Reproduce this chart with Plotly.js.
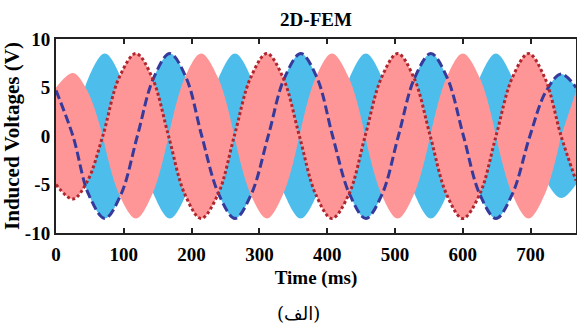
<!DOCTYPE html>
<html>
<head>
<meta charset="utf-8">
<script src="https://cdn.plot.ly/plotly-3.0.1.min.js"></script>
<style>html,body{margin:0;padding:0;background:#fff;}#chart{width:577px;height:325px;}</style>
</head>
<body>
<div id="chart"></div>
<script>
// Phase voltage (dotted red line), time in ms, volts
var timeRed = [0, 25, 46, 69, 93, 118, 142, 166, 190, 214, 239, 263, 287, 311, 335, 359, 383, 407, 432, 456, 480, 504, 528, 552, 576, 600, 625, 649, 673, 697, 721, 745, 767];
var voltRed = [-5.0, -6.5, -4.7, 0, 6.0, 8.5, 6.0, 0, -6.0, -8.5, -6.0, 0, 6.0, 8.5, 6.0, 0, -6.0, -8.5, -6.0, 0, 6.0, 8.5, 6.0, 0, -6.0, -8.5, -6.0, 0, 6.0, 8.5, 6.0, 0, -4.6];
// Phase voltage (dashed blue line)
var timeBlue = [0, 25, 48, 72, 96, 120, 144, 168, 192, 215, 240, 264, 288, 313, 337, 361, 385, 408, 433, 457, 481, 505, 529, 553, 577, 601, 625, 649, 673, 699, 722, 745, 767];
var voltBlue = [4.7, 0, -6.0, -8.5, -6.0, 0, 6.0, 8.5, 6.0, 0, -6.0, -8.5, -6.0, 0, 6.0, 8.5, 6.0, 0, -6.0, -8.5, -6.0, 0, 6.0, 8.5, 6.0, 0, -6.0, -8.5, -6.0, 0, 4.5, 6.4, 5.0];

var xTicks = [0, 100, 200, 300, 400, 500, 600, 700];
var yTicks = [-10, -5, 0, 5, 10];

var COL_RED_FILL = '#fe9697';
var COL_BLUE_FILL = '#4dbdec';
var COL_RED_LINE = '#b0262e';
var COL_BLUE_LINE = '#363a9b';
var FONT = 'Liberation Serif, Times New Roman, serif';

// envelope segments |v| split at zero crossings (sign = +1 top, -1 bottom)
function envelope(t, v, sign) {
  var xs = [], ys = [];
  for (var i = 0; i < t.length; i++) {
    xs.push(t[i]); ys.push(sign * Math.abs(v[i]));
    if (v[i] === 0 && i > 0 && i < t.length - 1) {
      xs.push(null); ys.push(null);
      xs.push(t[i]); ys.push(0);
    }
  }
  return {x: xs, y: ys};
}

function fillTrace(t, v, sign, color) {
  var e = envelope(t, v, sign);
  return {x: e.x, y: e.y, type: 'scatter', mode: 'lines', fill: 'tozeroy', fillcolor: color,
    line: {width: 0, shape: 'spline', smoothing: 1, color: color}, connectgaps: false, hoverinfo: 'skip', showlegend: false};
}

var traces = [
  fillTrace(timeBlue, voltBlue, 1, COL_BLUE_FILL),
  fillTrace(timeBlue, voltBlue, -1, COL_BLUE_FILL),
  fillTrace(timeRed, voltRed, 1, COL_RED_FILL),
  fillTrace(timeRed, voltRed, -1, COL_RED_FILL),
  {x: timeBlue, y: voltBlue, type: 'scatter', mode: 'lines', showlegend: false,
   line: {color: COL_BLUE_LINE, width: 3, dash: '9px,4px', shape: 'spline', smoothing: 1}},
  {x: timeRed, y: voltRed, type: 'scatter', mode: 'lines', showlegend: false,
   line: {color: COL_RED_LINE, width: 3, dash: '3px,2.5px', shape: 'spline', smoothing: 1}}
];

var layout = {
  width: 577, height: 325,
  margin: {l: 56, r: 1, t: 39, b: 92},
  paper_bgcolor: '#fff', plot_bgcolor: '#fff',
  showlegend: false,
  title: {text: '2D-FEM', font: {family: FONT, size: 19, color: '#000', weight: 'bold'},
          x: 0.5, xref: 'paper', y: 1 - 19 / 325, yref: 'container', yanchor: 'middle'},
  xaxis: {range: [0, 767], tickvals: xTicks, ticktext: xTicks.map(String),
          showgrid: false, zeroline: false, showline: true, linecolor: '#222', linewidth: 2, mirror: 'ticks',
          ticks: 'inside', ticklen: 5, tickwidth: 2, tickcolor: '#222', ticklabelstandoff: 3,
          tickfont: {family: FONT, size: 19, color: '#000', weight: 'bold'},
          title: {text: 'Time (ms)', font: {family: FONT, size: 19, color: '#000', weight: 'bold'}, standoff: 7}},
  yaxis: {range: [-10, 10], tickvals: yTicks, ticktext: yTicks.map(String),
          showgrid: false, zeroline: false, showline: true, linecolor: '#222', linewidth: 2, mirror: true,
          ticks: '', ticklen: 0,
          tickfont: {family: FONT, size: 19, color: '#000', weight: 'bold'},
          title: {text: 'Induced Voltages (V)', font: {family: FONT, size: 21, color: '#000', weight: 'bold'}, standoff: 4}},
  annotations: [{text: '(الف)', xref: 'paper', yref: 'paper', x: (298 - 56) / 520, y: (233 - 313) / 194,
                 showarrow: false, xanchor: 'center', yanchor: 'middle',
                 font: {family: 'DejaVu Serif, DejaVu Sans, serif', size: 18, color: '#000'}}]
};

Plotly.newPlot('chart', traces, layout, {displayModeBar: false, staticPlot: true});
</script>
</body>
</html>
